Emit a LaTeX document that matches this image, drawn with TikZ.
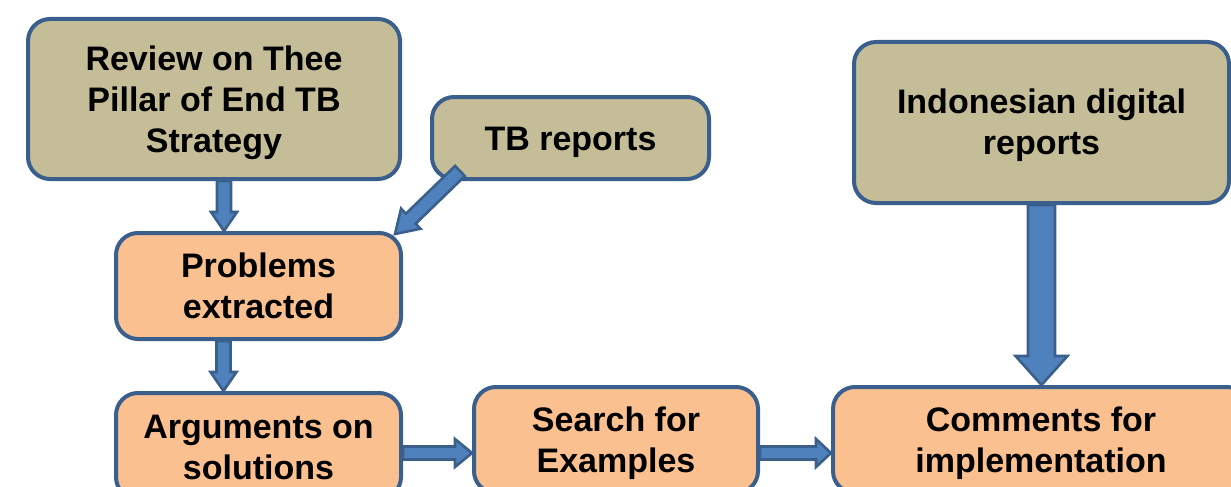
\documentclass[tikz,border=0pt]{standalone}
\usepackage{fontspec}
\setmainfont{Liberation Sans}
\usetikzlibrary{calc}

\definecolor{boxline}{HTML}{3A5F8D}
\definecolor{tanfill}{HTML}{C4BD97}
\definecolor{peachfill}{HTML}{FAC090}
\definecolor{arrowfill}{HTML}{4F81BD}
\definecolor{arrowline}{HTML}{3A5F8B}

\tikzset{
  box/.style={draw=boxline, line width=4pt, rounded corners=22pt,
    inner sep=0pt, text=black,
    font=\fontsize{34pt}{41pt}\selectfont\bfseries},
  tanbox/.style={box, fill=tanfill},
  peachbox/.style={box, fill=peachfill},
  barrow/.style={fill=arrowfill, draw=arrowline, line width=2.6pt, line join=miter}
}

% centred lines of box text; #1 = height of the first baseline above the box centre
\newcommand\boxlines[2]{\raisebox{#1}[0pt][0pt]{\begin{tabular}[t]{@{}c@{}}#2\end{tabular}}}

% block arrow: start, end, shaft half width, head half width, head length
\newcommand\blockarrow[5]{%
  \coordinate (ba-h) at ($(#2)!#5!(#1)$);
  \draw[barrow]
    ($(#1)!#3!90:(#2)$) -- ($(ba-h)!#3!90:(#2)$) -- ($(ba-h)!#4!90:(#2)$)
    -- (#2) -- ($(ba-h)!#4!-90:(#2)$) -- ($(ba-h)!#3!-90:(#2)$)
    -- ($(#1)!#3!-90:(#2)$) -- cycle;
}

\begin{document}
\begin{tikzpicture}[x=1pt, y=-1pt]
\path[use as bounding box, clip] (0,0) rectangle (1231,487);

\node[tanbox, minimum width=372pt, minimum height=160pt] (A) at (214,99)
  {\boxlines{28.5pt}{Review on Thee\\Pillar of End TB\\Strategy}};
\node[tanbox, minimum width=277pt, minimum height=82pt] (B) at (570.5,138)
  {\boxlines{-12.5pt}{TB reports}};
\node[peachbox, minimum width=285pt, minimum height=106pt] (C) at (258.5,286)
  {\boxlines{9pt}{Problems\\extracted}};
\node[peachbox, minimum width=285pt, minimum height=106pt] (D) at (258.5,446)
  {\boxlines{8pt}{Arguments on\\solutions}};
\node[peachbox, minimum width=284pt, minimum height=106pt] (E) at (616,440)
  {\boxlines{8.5pt}{Search for\\Examples}};
\node[peachbox, minimum width=416pt, minimum height=106pt] (F) at (1041,440)
  {\boxlines{8.5pt}{Comments for\\implementation}};
\node[tanbox, minimum width=375pt, minimum height=161pt] (G) at (1041.5,122.5)
  {\boxlines{9.5pt}{Indonesian digital\\reports}};

% connectors
\coordinate (a1) at ([xshift=10pt]A.south);
\coordinate (a2) at (a1 |- C.north);
\blockarrow{a1}{a2}{7pt}{13pt}{19pt}

\coordinate (c1) at ([xshift=-35pt]C.south);
\coordinate (c2) at (c1 |- D.north);
\blockarrow{c1}{c2}{7pt}{13pt}{19pt}

\coordinate (b1) at ([xshift=30pt,yshift=10pt]B.south west);
\coordinate (b2) at ([xshift=-8pt,yshift=-3pt]C.north east);
\blockarrow{b1}{b2}{7pt}{14pt}{22pt}

\coordinate (row) at (0,453);
\coordinate (d1) at (D.east |- row);
\coordinate (d2) at (E.west |- row);
\blockarrow{d1}{d2}{6.5pt}{14pt}{17pt}

\coordinate (e1) at (E.east |- row);
\coordinate (e2) at (F.west |- row);
\blockarrow{e1}{e2}{6.5pt}{14pt}{15pt}

\coordinate (g1) at (G.south);
\coordinate (g2) at (G.south |- F.north);
\blockarrow{g1}{g2}{13.5pt}{26pt}{29pt}
\end{tikzpicture}
\end{document}
